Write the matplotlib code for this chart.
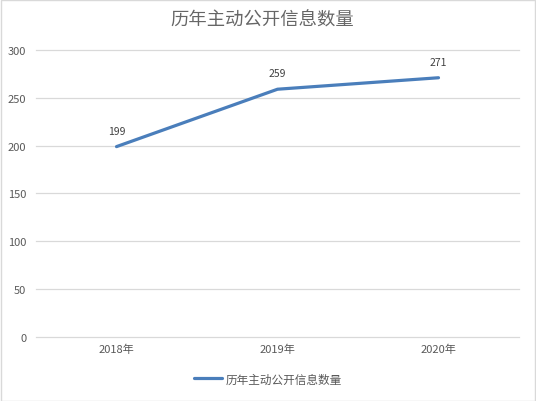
import matplotlib.pyplot as plt
from matplotlib.patches import Rectangle

plt.rcParams['font.family'] = ['Noto Sans CJK SC', 'DejaVu Sans']

years = ['2018年', '2019年', '2020年']
counts = [199, 259, 271]
series_name = '历年主动公开信息数量'
title = '历年主动公开信息数量'

fig = plt.figure(figsize=(5.36, 4.02), dpi=100)
ax = fig.add_axes([36 / 536, 1 - 338 / 402, (519 - 36) / 536, (338 - 51) / 402])

x = range(len(years))
line, = ax.plot(x, counts, color='#4a7ebb', lw=2.3, label=series_name,
                solid_capstyle='round')
for xi, v in zip(x, counts):
    ax.annotate(str(v), (xi, v), xytext=(0, 8), textcoords='offset points',
                ha='center', va='bottom', fontsize=7.5, color='#404040')

ax.set_xlim(-0.5, 2.5)
ax.set_ylim(0, 300)
ax.set_yticks(range(0, 301, 50))
ax.set_xticks(list(x))
ax.set_xticklabels(years)
ax.tick_params(length=0, labelsize=8, labelcolor='#595959')
ax.tick_params(axis='y', pad=7)
ax.tick_params(axis='x', pad=5)
ax.grid(axis='y', color='#d9d9d9', lw=0.9)
for gl in ax.get_ygridlines():
    gl.set_clip_on(False)
ax.set_axisbelow(True)
for s in ax.spines.values():
    s.set_visible(False)

fig.text(0.49, 1 - 21 / 402, title, ha='center', va='center',
         fontsize=13.2, color='#666666')

fig.legend(handles=[line], loc='center', bbox_to_anchor=(0.5, 1 - 380 / 402),
           frameon=False, fontsize=8.4, labelcolor='#595959',
           handlelength=2.4, handletextpad=0.3)

fig.patches.append(Rectangle((0.5 / 536, 0.5 / 402), 1 - 1.5 / 536, 1 - 1.5 / 402,
                             transform=fig.transFigure, fill=False,
                             edgecolor='#d9d9d9', lw=1))

fig.savefig('out.png', dpi=100)
